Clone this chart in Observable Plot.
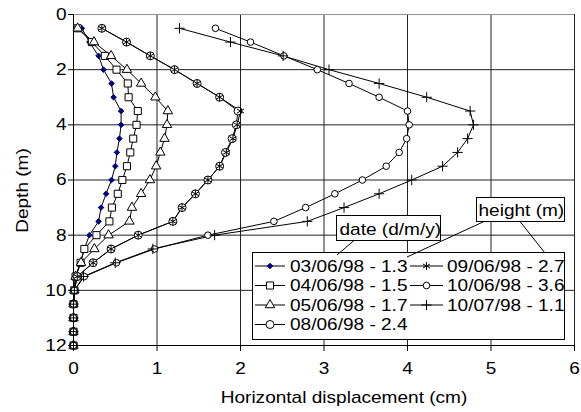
<!DOCTYPE html>
<html><head><meta charset="utf-8">
<script src="https://cdn.jsdelivr.net/npm/d3@7"></script>
<script src="https://cdn.jsdelivr.net/npm/@observablehq/plot@0.6"></script>
<style>
html,body{margin:0;padding:0;background:#fff;}
#chart{position:relative;width:581px;height:412px;}
</style></head><body><div id="chart"></div>
<script>
// ---- data ----
const depths = [0.5,1,1.5,2,2.5,3,3.5,4,4.5,5,5.5,6,6.5,7,7.5,8,8.5,9,9.5,10,10.5,11,11.5,12];
const s030698 = [0.10,0.19,0.30,0.36,0.455,0.48,0.57,0.57,0.55,0.52,0.50,0.455,0.39,0.33,0.30,0.19,0.13,0.08,0.025,0.01,0,0,0,0];
const s040698 = [0.05,0.22,0.375,0.515,0.65,0.66,0.77,0.755,0.715,0.68,0.64,0.585,0.53,0.46,0.43,0.275,0.13,0.085,0.025,0.01,0,0,0,0];
const s050698 = [0.05,0.245,0.45,0.64,0.81,0.98,1.13,1.12,1.09,1.04,0.99,0.915,0.81,0.70,0.67,0.42,0.25,0.09,0.025,0.01,0,0,0,0];
const s080698 = [0.34,0.635,0.92,1.21,1.48,1.75,1.97,1.95,1.90,1.82,1.75,1.61,1.46,1.30,1.19,0.775,0.45,0.235,0.045,0.01,0,0,0,0];
const s090698 = [0.34,0.635,0.92,1.21,1.48,1.75,2.00,1.96,1.91,1.83,1.75,1.61,1.46,1.30,1.19,0.775,0.45,0.235,0.045,0.01,0,0,0,0];
const s100698 = [1.70,2.12,2.52,2.92,3.30,3.66,4.00,4.02,3.99,3.90,3.745,3.46,3.13,2.78,2.40,1.61,0.97,0.515,0.13,0.01,0,0,0,0];
const s100798 = [1.27,1.88,2.51,3.06,3.66,4.23,4.75,4.79,4.72,4.60,4.42,4.05,3.66,3.24,2.80,1.69,0.95,0.50,0.12,0.01,0,0,0,0];
const seriesNames = ["03/06/98 - 1.3","04/06/98 - 1.5","05/06/98 - 1.7","08/06/98 - 2.4","09/06/98 - 2.7","10/06/98 - 3.6","10/07/98 - 1.1"];
const seriesValues = [s030698,s040698,s050698,s080698,s090698,s100698,s100798];
const xTicks = [0,1,2,3,4,5,6];
const yTicks = [0,2,4,6,8,10,12];
const xTitle = "Horizontal displacement (cm)";
const yTitle = "Depth (m)";
const dateLabel = "date (d/m/y)";
const heightLabel = "height (m)";

// ---- styles ----
const styles = [
  {symbol:"diamond2", r:2.5, fill:"#000080", stroke:"#000080"},
  {symbol:"square", r:4.0, fill:"white", stroke:"black"},
  {symbol:"triangle", r:3.5, fill:"white", stroke:"black"},
  {symbol:"circle", r:4.0, fill:"white", stroke:"black"},
  {symbol:"asterisk", r:3.8, fill:"none", stroke:"black"},
  {symbol:"circle", r:3.3, fill:"white", stroke:"black"},
  {symbol:"plus", r:3.4, fill:"none", stroke:"black"}
];

const tables = seriesValues.map((vals, i) => depths.map((d, j) => ({depth: d, disp: vals[j], series: seriesNames[i]})));

const seriesMarks = [];
tables.forEach((t) => {
  seriesMarks.push(Plot.line(t, {x: "disp", y: "depth", stroke: "black", strokeWidth: 1}));
});
tables.forEach((t, i) => {
  const st = styles[i];
  seriesMarks.push(Plot.dot(t, {x: "disp", y: "depth", symbol: () => st.symbol, r: st.r, fill: st.fill, stroke: st.stroke, strokeWidth: 1}));
});

const svg = Plot.plot({
  width: 581, height: 412,
  marginLeft: 73, marginRight: 7, marginTop: 14, marginBottom: 67,
  x: {domain: [0, 6]},
  y: {domain: [0, 12], reverse: true},
  symbol: {type: "identity"},
  style: {fontFamily: "'Liberation Sans', Arial, sans-serif", fontSize: "17px", background: "white", color: "black", overflow: "visible"},
  marks: [
    Plot.gridX(xTicks.slice(1), {stroke: "#222", strokeOpacity: 1, strokeWidth: 1}),
    Plot.gridY(yTicks.slice(1, -1), {stroke: "#222", strokeOpacity: 1, strokeWidth: 1}),
    Plot.ruleY([0], {stroke: "#909090"}),
    Plot.ruleX([6], {stroke: "#222"}),
    Plot.axisX({ticks: xTicks, tickSize: 6, tickPadding: 10.5, label: null, tickFormat: d => String(d)}),
    Plot.axisY({ticks: yTicks, tickSize: 5, tickPadding: 2, label: null, tickFormat: d => String(d)}),
    Plot.ruleX([0], {stroke: "black"}),
    Plot.ruleY([12], {stroke: "black"}),
    ...seriesMarks,
    Plot.text([xTitle], {frameAnchor: "bottom", textAnchor: "middle", lineAnchor: "middle", dx: 20, dy: 52}),
    Plot.text([yTitle], {frameAnchor: "left", textAnchor: "middle", lineAnchor: "middle", rotate: -90, dx: -51, dy: 10.5})
  ]
});
document.getElementById("chart").append(svg);

// ---- legend & annotation boxes (drawn into the same svg) ----
const symMap = {diamond2: d3.symbolDiamond2, square: d3.symbolSquare, triangle: d3.symbolTriangle, circle: d3.symbolCircle, asterisk: d3.symbolAsterisk, plus: d3.symbolPlus};
const g = d3.select(svg).append("g")
  .attr("font-family", "'Liberation Sans', Arial, sans-serif").attr("font-size", 17)
  .attr("text-anchor", "start");
g.append("rect").attr("x", 252.5).attr("y", 252.5).attr("width", 312).attr("height", 87).attr("fill", "white").attr("stroke", "black");
const rowBase = [271.5, 291, 310.5, 330];
seriesNames.forEach((name, i) => {
  const col = i < 4 ? 0 : 1;
  const row = i < 4 ? i : i - 4;
  const x0 = col === 0 ? 255 : 410, x1 = col === 0 ? 285 : 443, tx = col === 0 ? 290 : 447;
  const cy = rowBase[row] - 6;
  const st = styles[i];
  g.append("line").attr("x1", x0).attr("x2", x1).attr("y1", cy + 0.5).attr("y2", cy + 0.5).attr("stroke", "black");
  g.append("path").attr("d", d3.symbol(symMap[st.symbol], Math.PI * st.r * st.r)())
    .attr("transform", `translate(${(x0 + x1) / 2},${cy + 0.5})`)
    .attr("fill", st.fill).attr("stroke", st.stroke).attr("stroke-width", 1);
  g.append("text").attr("x", tx).attr("y", rowBase[row]).text(name);
});
// annotation labels
g.append("rect").attr("x", 336.5).attr("y", 215.5).attr("width", 104).attr("height", 25).attr("fill", "white").attr("stroke", "black");
g.append("text").attr("x", 339.5).attr("y", 234.5).text(dateLabel);
g.append("rect").attr("x", 476.5).attr("y", 197.5).attr("width", 88).attr("height", 24).attr("fill", "white").attr("stroke", "black");
g.append("text").attr("x", 478.5).attr("y", 216).text(heightLabel);
[[354, 240.5, 337, 255], [484, 221.5, 407, 257], [520, 221.5, 545, 253]].forEach(([a, b, c, d]) => {
  g.append("line").attr("x1", a).attr("y1", b).attr("x2", c).attr("y2", d).attr("stroke", "black");
});

// widen text like the original GDI rendering
svg.querySelectorAll("text").forEach(t => {
  const L = t.getComputedTextLength();
  if (L > 0) { t.setAttribute("textLength", (L * 1.12).toFixed(1)); t.setAttribute("lengthAdjust", "spacingAndGlyphs"); }
});
</script></body></html>
